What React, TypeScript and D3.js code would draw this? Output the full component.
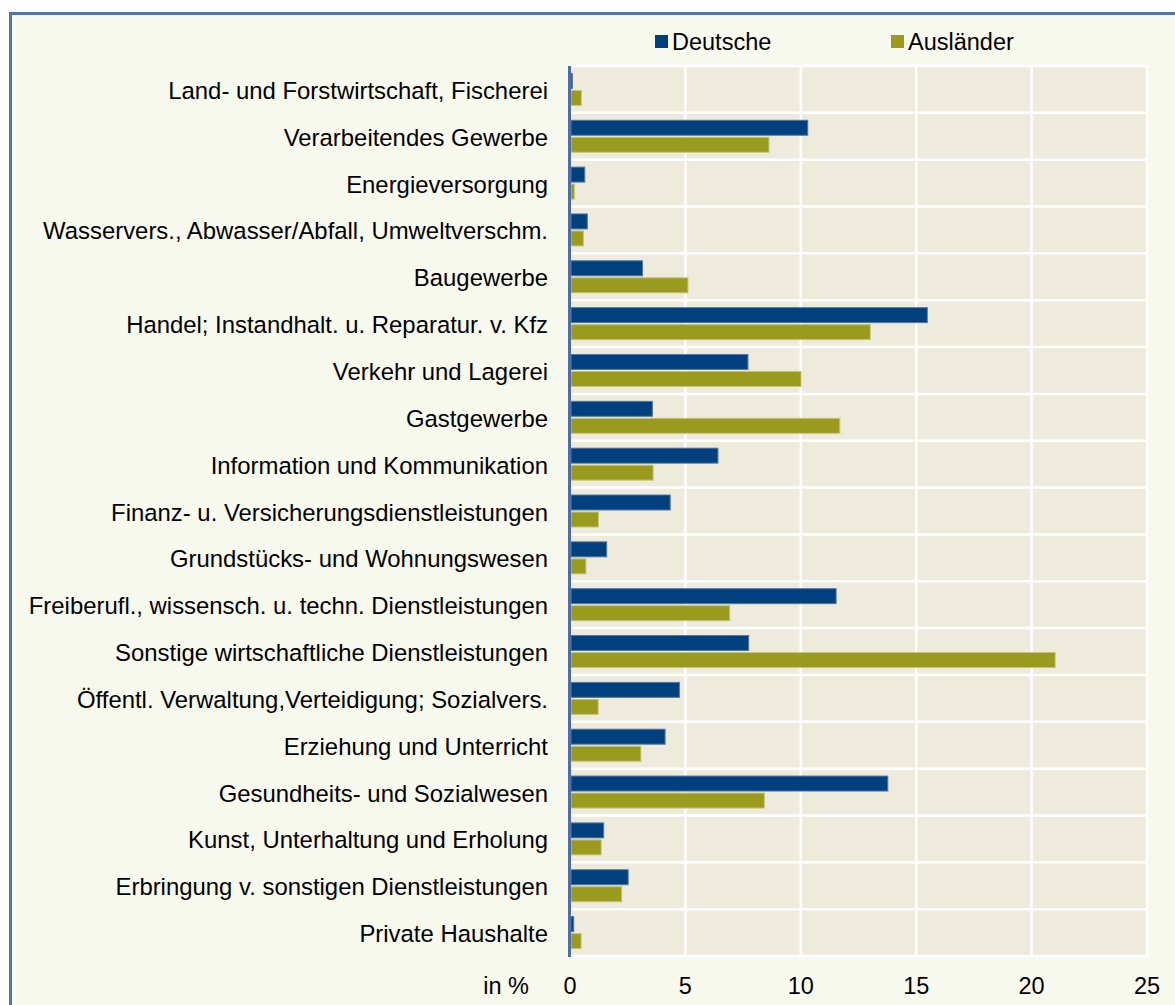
import React from "react";
import * as d3 from "d3";

const categories = [
  "Land- und Forstwirtschaft, Fischerei",
  "Verarbeitendes Gewerbe",
  "Energieversorgung",
  "Wasservers., Abwasser/Abfall, Umweltverschm.",
  "Baugewerbe",
  "Handel; Instandhalt. u. Reparatur. v. Kfz",
  "Verkehr und Lagerei",
  "Gastgewerbe",
  "Information und Kommunikation",
  "Finanz- u. Versicherungsdienstleistungen",
  "Grundstücks- und Wohnungswesen",
  "Freiberufl., wissensch. u. techn. Dienstleistungen",
  "Sonstige wirtschaftliche Dienstleistungen",
  "Öffentl. Verwaltung,Verteidigung; Sozialvers.",
  "Erziehung und Unterricht",
  "Gesundheits- und Sozialwesen",
  "Kunst, Unterhaltung und Erholung",
  "Erbringung v. sonstigen Dienstleistungen",
  "Private Haushalte",
];

const deutsche = [0.1, 10.3, 0.64, 0.75, 3.14, 15.48, 7.71, 3.57, 6.41, 4.34, 1.59, 11.53, 7.74, 4.74, 4.12, 13.77, 1.46, 2.52, 0.16];
const auslaender = [0.49, 8.62, 0.19, 0.58, 5.11, 13.01, 10.01, 11.69, 3.6, 1.23, 0.69, 6.92, 21.02, 1.22, 3.07, 8.42, 1.35, 2.24, 0.48];

const seriesNames = ["Deutsche", "Ausländer"];
const seriesColors = ["#00407f", "#9a9a1f"];
const seriesStrokes = ["#5577a3", "#c4c47e"];
const xTicks = [0, 5, 10, 15, 20, 25];
const axisUnit = "in %";

const W = 1175;
const H = 1005;
const FONT = "'Liberation Sans', Arial, sans-serif";
const FS = 23.5;
const LFS = 23.9;

export default function App() {
  const x = d3.scaleLinear().domain([0, 25]).range([570, 1147]);
  const y = d3.scaleBand<string>().domain(categories).range([66, 956]).padding(0);
  const bw = y.bandwidth();
  const sub = d3
    .scaleBand<string>()
    .domain(seriesNames)
    .range([(bw - 32) / 2, (bw + 32) / 2])
    .paddingInner(0.12);
  const values = [deutsche, auslaender];

  return (
    <svg
      width={W}
      height={H}
      style={{ position: "absolute", left: 0, top: 0, display: "block" }}
      fontFamily={FONT}
    >
      <rect x={0} y={0} width={W} height={H} fill="#ffffff" />
      <rect x={10.5} y={13.5} width={W + 20} height={H + 20} fill="#f8f9ee" stroke="#5674ab" strokeWidth={3} />

      {/* plot background */}
      <rect x={x(0)} y={66} width={x(25) - x(0)} height={956 - 66} fill="#eeebdc" />

      {/* vertical gridlines */}
      {xTicks.slice(1).map((t) => (
        <line key={"vg" + t} x1={x(t)} x2={x(t)} y1={65} y2={957} stroke="#ffffff" strokeWidth={2.5} />
      ))}
      {/* horizontal gridlines */}
      {categories.map((c) => (
        <line key={"hg" + c} x1={x(0)} x2={x(25) + 1} y1={y(c)!} y2={y(c)!} stroke="#ffffff" strokeWidth={2.5} />
      ))}
      <line x1={x(0)} x2={x(25) + 1} y1={956} y2={956} stroke="#ffffff" strokeWidth={2.5} />

      {/* bars */}
      {categories.map((c, i) => (
        <g key={"b" + c}>
          {seriesNames.map((s, k) => (
            <rect
              key={s}
              x={x(0) + 1}
              y={y(c)! + sub(s)!}
              width={Math.max(0, x(values[k][i]) - x(0) - 1)}
              height={sub.bandwidth()}
              fill={seriesColors[k]}
              stroke={seriesStrokes[k]}
              strokeWidth={1}
            />
          ))}
        </g>
      ))}

      {/* axis line */}
      <line x1={x(0) - 0.5} x2={x(0) - 0.5} y1={66} y2={957} stroke="#4f6ea8" strokeWidth={3} />

      {/* category labels */}
      {categories.map((c) => (
        <text
          key={"l" + c}
          x={548}
          y={y(c)! + bw / 2 + 9.5}
          textAnchor="end"
          fontSize={LFS}
          fill="#000"
        >
          {c}
        </text>
      ))}

      {/* x tick labels */}
      {xTicks.map((t) => (
        <text key={"t" + t} x={x(t)} y={994} textAnchor="middle" fontSize={FS} fill="#000">
          {t}
        </text>
      ))}
      <text x={529} y={994} textAnchor="end" fontSize={FS} fill="#000">
        {axisUnit}
      </text>

      {/* legend */}
      {seriesNames.map((s, k) => {
        const lx = [655, 891][k];
        return (
          <g key={"lg" + s}>
            <rect x={lx} y={35} width={13} height={13} fill={seriesColors[k]} />
            <text x={lx + 17} y={49.5} fontSize={FS} fill="#000">
              {s}
            </text>
          </g>
        );
      })}
    </svg>
  );
}
